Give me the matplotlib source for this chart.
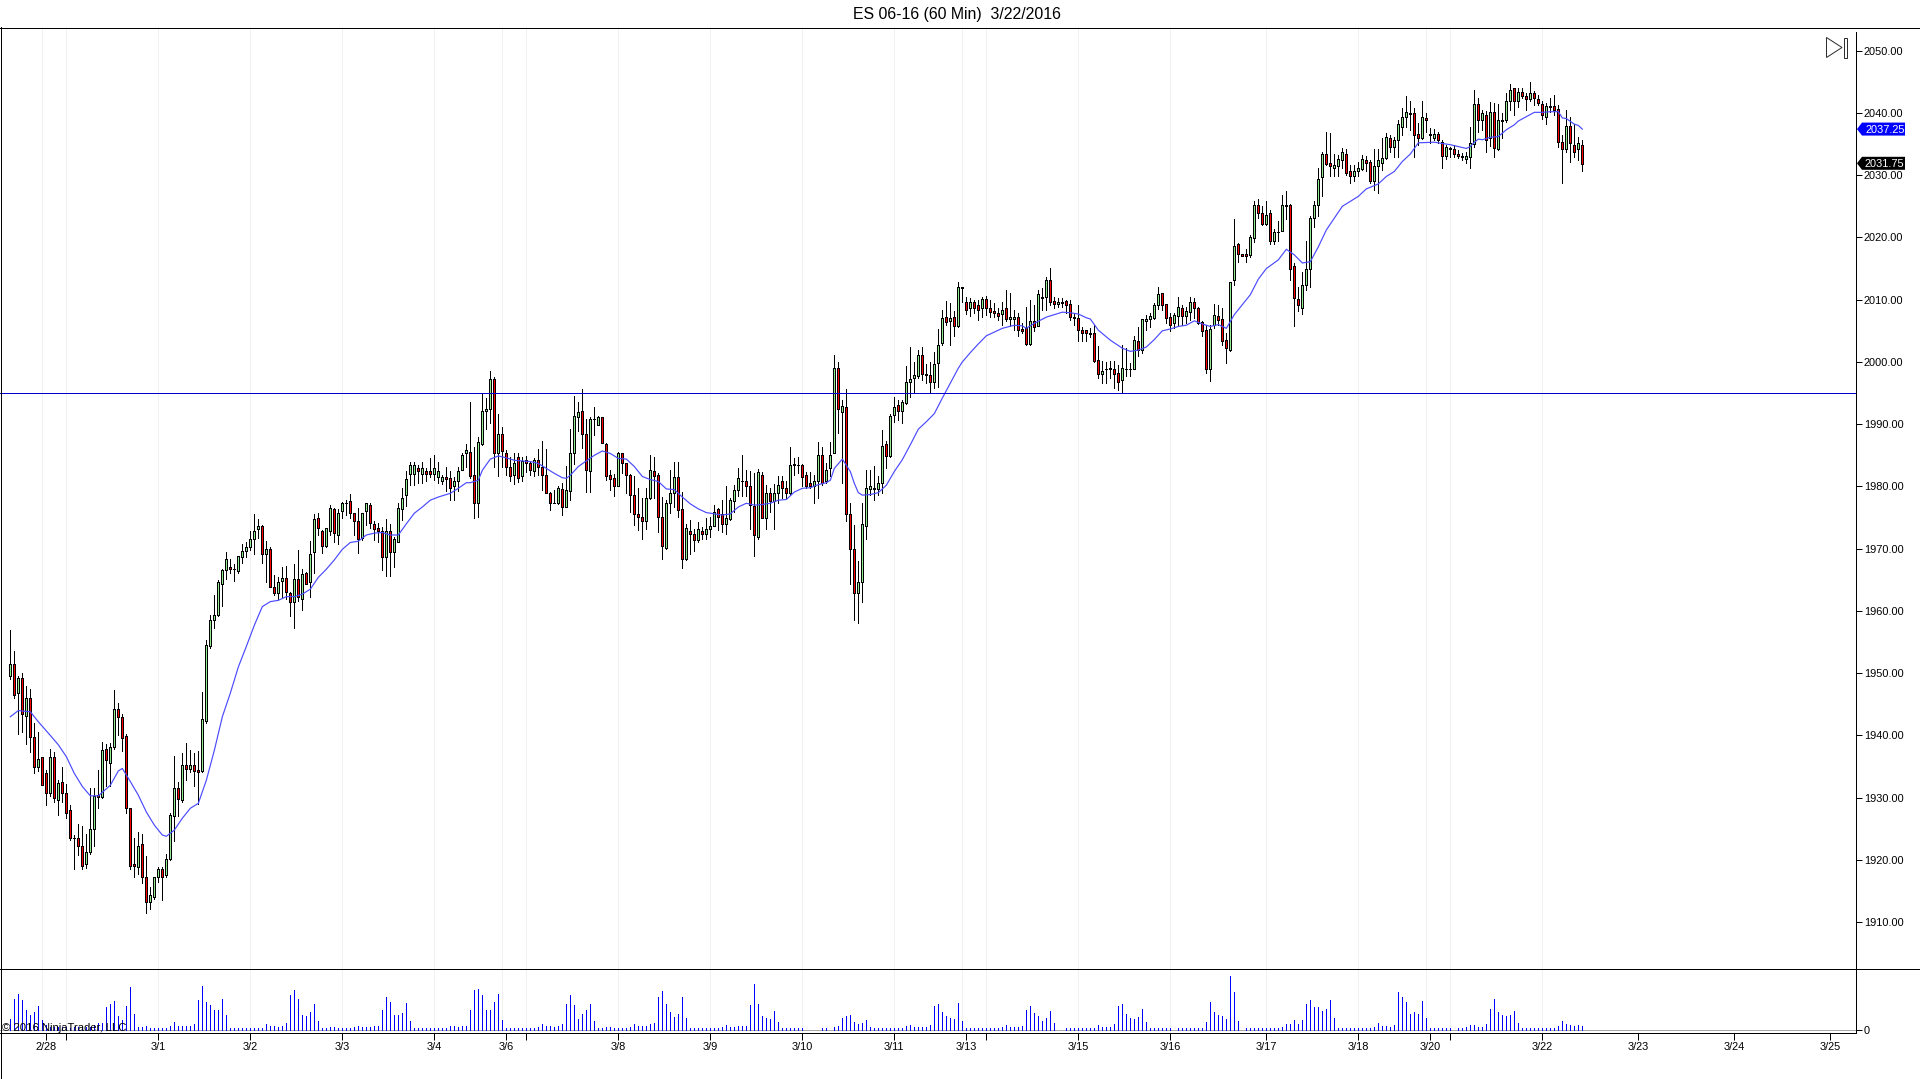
from matplotlib import pyplot as plt
from matplotlib.lines import Line2D
from matplotlib.patches import Polygon, Rectangle
from matplotlib.transforms import IdentityTransform

plt.rcParams['font.family'] = ['Liberation Sans', 'DejaVu Sans']

WIDTH, HEIGHT = 1920, 1079

opens = [
    1949.5, 1951.5, 1946.75, 1949.2, 1943.2, 1946, 1939.8, 1934.9, 1936.5, 1933.9,
    1930.7, 1936.6, 1929.7, 1932.6, 1930.7, 1928, 1923.6, 1923.5, 1922.3, 1919.4,
    1921.2, 1925, 1930.4, 1930.1, 1937.9, 1935.6, 1938.2, 1944.2, 1942.9, 1939.9,
    1928.4, 1919.4, 1918.8, 1922.6, 1917.2, 1913.3, 1914.1, 1917.2, 1918.6, 1917.6,
    1920.1, 1927.1, 1931.6, 1929.7, 1935.3, 1934.6, 1935.3, 1934.4, 1934.3, 1942.3,
    1954.4, 1958.6, 1959.4, 1964.4, 1966.6, 1967.1, 1966.7, 1966.4, 1968.7, 1969.7,
    1970.2, 1971.5, 1973.2, 1973.7, 1969.2, 1970, 1963.9, 1962.9, 1964.8, 1965.3,
    1962.9, 1961.5, 1965.2, 1962, 1966.1, 1964.7, 1969.4, 1975, 1972.8, 1970.5,
    1972.9, 1976.3, 1972.2, 1976, 1977.4, 1977.7, 1975.7, 1974.5, 1971.7, 1976,
    1977, 1973.9, 1973.3, 1972.9, 1968.7, 1972.9, 1969.4, 1971.1, 1976.3, 1978.6,
    1982, 1982, 1983, 1982, 1982.5, 1982.5, 1982, 1981.5, 1980.9, 1981.45,
    1981.3, 1980, 1980.8, 1982.7, 1985.3, 1985.5, 1981.8, 1977.4, 1986.8, 1992.2,
    1992.5, 1997.2, 1985.3, 1988.5, 1985.4, 1983.2, 1981.8, 1984.8, 1981.7, 1984.2,
    1983.7, 1982.5, 1984.2, 1983.1, 1981.9, 1979, 1977.4, 1977.3, 1979.6, 1976.7,
    1979.3, 1985.3, 1991.1, 1992.2, 1988.5, 1982.5, 1990.8, 1989.9, 1991.1, 1986.8,
    1981.8, 1981.3, 1980, 1985.4, 1983.7, 1981.9, 1978.6, 1975.5, 1975.1, 1974.5,
    1978.2, 1982.5, 1981.9, 1975.1, 1970.1, 1977.4, 1979, 1981.5, 1976.3, 1968.4,
    1972.8, 1972.4, 1971.4, 1972.9, 1972.4, 1973.2, 1973.7, 1976.3, 1975.5, 1973.9,
    1974.7, 1977.7, 1979.4, 1980.9, 1980.9, 1980, 1976.9, 1971.9, 1981.9, 1975,
    1979, 1977.6, 1979, 1980.9, 1979.7, 1979, 1983.6, 1983.5, 1983.5, 1981.8,
    1980.5, 1980.1, 1980.9, 1985, 1980.8, 1983, 1985.4, 1999, 1992, 1992.7,
    1975.5, 1970, 1962.9, 1964.7, 1973.7, 1979.6, 1979.7, 1979.6, 1980.5, 1986.8,
    1984.9, 1991.5, 1993.1, 1992.2, 1993.4, 1996.7, 1997.5, 1997.8, 2001.1, 1998,
    1997.9, 1996.7, 1999.8, 2003, 2007.3, 2006.5, 2007.3, 2005.8, 2012, 2009.6,
    2008.6, 2009.6, 2009.1, 2008.6, 2010.1, 2008.6, 2008.2, 2007.8, 2007.7, 2008.6,
    2006.9, 2006.9, 2007.3, 2005.3, 2005.4, 2002.9, 2006.5, 2005.8, 2010.5, 2010.5,
    2013.1, 2009.8, 2009.3, 2009.65, 2009.8, 2009.3, 2007.3, 2007, 2005.2, 2005.1,
    2004.6, 2004.6, 2000.3, 1998, 1998.9, 1999, 1998.8, 1998.3, 1997.1, 1998.9,
    1998.9, 1998.9, 2003.3, 2002, 2006.5, 2006.9, 2007, 2009.1, 2011, 2009.3,
    2007.3, 2006.3, 2007.4, 2008.6, 2007.4, 2008.1, 2009.6, 2008.6, 2006.4, 2005.1,
    1998.9, 2006, 2007.4, 2006.9, 2003.5, 2002, 2013.1, 2018.9, 2017.3, 2017.3,
    2017.2, 2019.9, 2025.2, 2023.9, 2022.2, 2023.9, 2019.5, 2020.8, 2021.1, 2025.1,
    2025.2, 2015.4, 2010.1, 2008.7, 2012.3, 2014.9, 2023.1, 2025.2, 2029.7, 2033.4,
    2031.9, 2031.1, 2031.4, 2032.5, 2033.4, 2030.7, 2029.8, 2030.7, 2031, 2032.5,
    2032.2, 2029.1, 2031.5, 2032, 2032.8, 2035.9, 2034.6, 2035.7, 2037.8, 2039.3,
    2040, 2040, 2036.6, 2035.9, 2039.2, 2036.6, 2036, 2036.6, 2035.3, 2033.1,
    2034.3, 2034.2, 2033.4, 2033.1, 2032.6, 2033, 2035, 2041.4, 2038.8, 2039.7,
    2036, 2040.1, 2034.2, 2038.9, 2038.9, 2041.9, 2044, 2041.9, 2043.3, 2042.7,
    2042.2, 2043.2, 2042.2, 2041.4, 2039.3, 2041.1, 2041.1, 2040.6, 2035.3, 2034.2,
    2037.9, 2034.9, 2034.2, 2034.8,
]
highs = [
    1957, 1953.5, 1949.5, 1950, 1948, 1947.4, 1942, 1940.5, 1936.6, 1934.4,
    1937.9, 1937.4, 1932.8, 1934.9, 1932.2, 1928.8, 1924, 1925.7, 1925.5, 1924.1,
    1931.6, 1931.6, 1934.4, 1938.9, 1938.7, 1938.8, 1947.3, 1945.2, 1943.4, 1940.2,
    1928.4, 1923.5, 1924.5, 1924.1, 1920.6, 1915.7, 1917.3, 1918.8, 1918.8, 1920.9,
    1927.6, 1936.7, 1932.5, 1937.2, 1938.8, 1937.7, 1937.2, 1937.5, 1947, 1955.3,
    1959.3, 1962.5, 1964.9, 1966.7, 1969.4, 1968.3, 1967.5, 1968.9, 1970.7, 1971.1,
    1972.9, 1975.6, 1974.7, 1973.8, 1971.2, 1970.2, 1965.8, 1965.4, 1967, 1967.2,
    1963.1, 1967.5, 1969.8, 1966.8, 1966.3, 1971.2, 1975.6, 1975.7, 1973, 1973.4,
    1977, 1976.5, 1976.3, 1977.5, 1977.8, 1978.8, 1975.8, 1976.5, 1975.8, 1977.4,
    1977.4, 1974.5, 1974.2, 1973.5, 1974.7, 1974, 1971.9, 1977.3, 1979.7, 1982.5,
    1984, 1984, 1983.5, 1984, 1983, 1984.5, 1985, 1984, 1981.8, 1983.1,
    1982.5, 1981.5, 1983.2, 1985.4, 1986.8, 1993.5, 1986.3, 1987.9, 1995, 1994.2,
    1998.5, 1997.6, 1991.6, 1989.6, 1985.8, 1984.7, 1985.4, 1985.4, 1984.7, 1984.9,
    1984, 1984.5, 1986, 1987.3, 1986, 1979.1, 1979.5, 1980, 1980.5, 1983.3,
    1989.3, 1994.5, 1993.6, 1995.6, 1990.8, 1991.1, 1992.7, 1991.3, 1991.2, 1986.9,
    1982.7, 1982, 1985.5, 1985.4, 1983.8, 1982, 1981.6, 1979.7, 1978.2, 1979.7,
    1985, 1984.8, 1982.1, 1978.3, 1977.8, 1982.7, 1984, 1984, 1979.1, 1974,
    1974.6, 1973.2, 1974.3, 1973.5, 1974.9, 1975.1, 1977, 1976.5, 1977.9, 1980.1,
    1978.1, 1980.2, 1982.9, 1985, 1982.6, 1982.5, 1982.1, 1982.8, 1982.4, 1980.2,
    1979.7, 1980.4, 1981.7, 1981.7, 1980.9, 1986.3, 1984.5, 1984.8, 1983.6, 1982.3,
    1982.3, 1981.8, 1987.2, 1986.4, 1983.7, 1987.2, 2001.1, 2000, 1993.9, 1995.6,
    1977.4, 1973.8, 1968, 1977.3, 1982.6, 1982.6, 1983.3, 1981.6, 1989, 1987.3,
    1991.7, 1994.4, 1993.9, 1993.9, 1999.4, 2002.4, 2000, 2002, 2002.4, 1999.7,
    2000, 2001.6, 2005.3, 2008.4, 2009.8, 2009.5, 2008.2, 2012.8, 2012.1, 2010.5,
    2010.2, 2010, 2010, 2010.5, 2010.6, 2009.9, 2009.4, 2008.6, 2009.7, 2011.6,
    2011, 2008.4, 2007.8, 2006.2, 2008.9, 2009.9, 2009.2, 2011.6, 2011.8, 2013.7,
    2015.1, 2010.5, 2010.2, 2010.3, 2010, 2009.9, 2007.7, 2009.2, 2005.6, 2005.2,
    2005.4, 2005.9, 2002.6, 2000.2, 2000, 2000.2, 2000.2, 1999.5, 2002.8, 2002.2,
    1999.8, 2004.2, 2005.6, 2006.9, 2007.5, 2007.9, 2009.4, 2012, 2011, 2009.3,
    2007.8, 2007.9, 2010.4, 2009.2, 2008.8, 2010.4, 2010.2, 2008.9, 2006.6, 2005.9,
    2005.9, 2009.3, 2009.2, 2008.6, 2004.6, 2012.8, 2022.9, 2019.1, 2017.3, 2018.2,
    2020.4, 2025.8, 2026.1, 2025, 2025.9, 2024.4, 2021.3, 2022.7, 2026.8, 2027.5,
    2025.3, 2015.9, 2012.1, 2014.4, 2019.5, 2023.4, 2025.9, 2031.1, 2033.7, 2036.9,
    2036.7, 2033.4, 2033.2, 2034.4, 2034.2, 2031.7, 2031.7, 2032.2, 2033.2, 2033.1,
    2032.5, 2034.2, 2034.2, 2036, 2036.8, 2036.5, 2036.2, 2038.9, 2040.8, 2042.7,
    2041.9, 2040.8, 2038.4, 2041.9, 2040, 2037.6, 2037.4, 2037, 2035.7, 2034.9,
    2034.6, 2034.9, 2034.1, 2033.5, 2033.8, 2037.8, 2043.7, 2042.4, 2040.5, 2040.3,
    2041.7, 2041.6, 2041.5, 2040, 2043.2, 2044.7, 2044, 2044, 2044, 2043.2,
    2045, 2043.5, 2042.9, 2041.9, 2041.6, 2042.4, 2042.9, 2041.3, 2036.5, 2040.4,
    2039.4, 2038.2, 2036.1, 2035.7,
]
lows = [
    1949, 1946, 1940.2, 1940.5, 1938.7, 1937.4, 1933.9, 1934.3, 1932, 1928.9,
    1930.3, 1929.3, 1927.2, 1929.3, 1926.7, 1923.2, 1918.6, 1920.8, 1918.6, 1918.7,
    1921, 1922.2, 1928.4, 1930, 1931.8, 1931.9, 1937.9, 1940, 1937.5, 1927.6,
    1918.6, 1917.3, 1917.7, 1916.3, 1911.5, 1912.2, 1913.8, 1916.5, 1913.5, 1917.3,
    1920, 1923.1, 1927, 1929.3, 1932.8, 1934.2, 1931.9, 1929, 1934.2, 1942,
    1954.1, 1957.2, 1959.2, 1960.8, 1965.1, 1966.1, 1964.8, 1966.1, 1967.7, 1968.7,
    1969.8, 1969.1, 1971.7, 1967.7, 1964.7, 1963.8, 1962.5, 1962, 1962.2, 1962,
    1959.2, 1957.2, 1961.6, 1960.2, 1964.3, 1962.2, 1966.1, 1972.2, 1969.3, 1970.2,
    1972.2, 1971.1, 1970.8, 1975, 1975.4, 1974.9, 1972.2, 1969.3, 1971.4, 1973.8,
    1973.3, 1971.4, 1971.1, 1966.6, 1965.6, 1965.6, 1967.1, 1971.1, 1974.6, 1976.8,
    1980.3, 1980.3, 1980.5, 1980.5, 1980.8, 1981.5, 1981, 1980.5, 1980.4, 1979.3,
    1977.9, 1977.8, 1979.2, 1982.6, 1983.2, 1981.3, 1975, 1975.1, 1986.6, 1989.2,
    1990.2, 1983.2, 1981.7, 1983.2, 1981.8, 1980.8, 1980.4, 1980.7, 1980.9, 1982.4,
    1981.8, 1981.7, 1981.8, 1979.4, 1978.9, 1976.2, 1977.3, 1977.2, 1975.4, 1976.7,
    1977.8, 1983.6, 1988.9, 1986.1, 1979.1, 1979.1, 1988.3, 1989.9, 1986.9, 1981,
    1979.4, 1978.4, 1980, 1982.1, 1978.9, 1975.9, 1973.8, 1973, 1971.5, 1973.2,
    1978, 1978.1, 1972.7, 1968.3, 1970, 1975.7, 1976.7, 1975.1, 1966.9, 1968.2,
    1969.2, 1969.7, 1971.1, 1971.5, 1971.6, 1971.9, 1973.7, 1973, 1972.7, 1972.3,
    1974.6, 1975.9, 1978.5, 1978.5, 1978.5, 1973.2, 1968.9, 1971.5, 1974.9, 1973.2,
    1975.9, 1973.1, 1977.4, 1978.2, 1978.2, 1978.6, 1981.8, 1982.1, 1980.1, 1979.7,
    1979.7, 1977.3, 1978.2, 1980.3, 1980.5, 1981.7, 1985.3, 1988.6, 1980.5, 1974.5,
    1964.3, 1958.6, 1958, 1961.5, 1971.6, 1978.6, 1977.9, 1978.6, 1979, 1983,
    1984.8, 1990.4, 1990.7, 1990.2, 1993.2, 1994.4, 1995, 1997.5, 1997.1, 1996.6,
    1995, 1995.8, 1996, 2002.7, 2006, 2002.8, 2004.1, 2005.6, 2009.7, 2007.7,
    2007.4, 2007.8, 2006.7, 2007.3, 2007.5, 2007.3, 2007.3, 2006.8, 2006, 2006.5,
    2005.7, 2005.1, 2004.2, 2004.6, 2002.7, 2002.7, 2005, 2005.7, 2008.4, 2008.3,
    2009.2, 2008.6, 2008.9, 2008.9, 2007.8, 2006.8, 2006, 2003.4, 2003.4, 2003.4,
    2004, 2000, 1997.4, 1996.6, 1996.6, 1997.4, 1995.8, 1995.5, 1995, 1997.7,
    1997.7, 1998.9, 2001, 2001.4, 2005.1, 2005.6, 2006.9, 2008.5, 2008.4, 2006.2,
    2005, 2005.4, 2005.9, 2005.9, 2006.2, 2006.7, 2007, 2006.1, 2004.2, 1998.3,
    1996.9, 2005.4, 2005.9, 2002.7, 1999.8, 2001.8, 2012.4, 2016, 2017.1, 2016,
    2016.8, 2019.3, 2023.1, 2022, 2022, 2019, 2019, 2019.5, 2021.1, 2023,
    2013.2, 2005.8, 2008.2, 2007.7, 2011.5, 2012, 2021.6, 2023.4, 2026.7, 2031.7,
    2029.9, 2029.8, 2029.9, 2031.2, 2030, 2028.8, 2029.1, 2029.9, 2030.9, 2030.6,
    2028.8, 2027.6, 2027.1, 2030.9, 2032.6, 2033.8, 2033, 2033, 2036.5, 2037.8,
    2037.3, 2033, 2034.9, 2035.8, 2037, 2035.1, 2035.7, 2035.1, 2031.1, 2032.6,
    2033, 2033, 2032.7, 2032.5, 2031.9, 2031.1, 2034.6, 2037, 2037.3, 2033.7,
    2034.7, 2032.9, 2034.1, 2036, 2038.6, 2040.4, 2039.6, 2040.9, 2042.4, 2040.4,
    2041.9, 2041.3, 2041.3, 2039.1, 2038.3, 2040.2, 2039.6, 2034.6, 2028.8, 2033.7,
    2032.1, 2032.9, 2032.4, 2030.6,
]
closes = [
    1951.5, 1946.5, 1949.2, 1943.4, 1946, 1939.8, 1934.9, 1936.2, 1932.1, 1930.7,
    1936.5, 1929.9, 1932.4, 1930.8, 1927.6, 1923.6, 1923.5, 1922.3, 1919.1, 1921.2,
    1924.9, 1930.2, 1930.1, 1937.6, 1936, 1938.2, 1944.2, 1942.9, 1939.6, 1928.4,
    1919, 1919, 1922.3, 1917.2, 1913.3, 1914.3, 1917.3, 1918.6, 1917.2, 1920.1,
    1927.3, 1931.6, 1929.8, 1935.3, 1934.6, 1935.3, 1934.3, 1934.2, 1942.7, 1954.5,
    1958.6, 1959.4, 1964.7, 1966.6, 1968.4, 1966.7, 1966.7, 1968.9, 1969.7, 1970.2,
    1971.5, 1972.9, 1973.7, 1969.2, 1970, 1963.9, 1962.9, 1964.7, 1965.3, 1963.1,
    1961.5, 1965.2, 1962.2, 1966, 1964.3, 1969.2, 1974.7, 1973.3, 1970.5, 1973.3,
    1976.5, 1972.5, 1975.7, 1977.3, 1977.3, 1975.7, 1974.5, 1971.5, 1975.7, 1977.3,
    1974.2, 1973.2, 1972.9, 1968.7, 1972.9, 1969.4, 1971.5, 1976.5, 1978.2, 1981.2,
    1983.5, 1983.5, 1982.5, 1983, 1982, 1982, 1983, 1982.5, 1981.45, 1981.2,
    1979.7, 1980.9, 1982.5, 1985, 1985.8, 1981.7, 1977.4, 1987.1, 1992.2, 1992.5,
    1997.2, 1985.3, 1988.5, 1985.7, 1983.2, 1981.7, 1983.8, 1981.4, 1984.1, 1983.7,
    1982.6, 1984.2, 1983.1, 1981.8, 1979, 1977.3, 1977.3, 1979.7, 1976.7, 1979.5,
    1985.3, 1991.3, 1992, 1988.5, 1982.6, 1990.8, 1990.8, 1991.1, 1987, 1981.7,
    1981.2, 1980, 1985.3, 1983.7, 1981.8, 1978.6, 1975.5, 1975.1, 1974.5, 1978.2,
    1982.7, 1981.7, 1975.1, 1970.5, 1977.4, 1979, 1981.5, 1976.2, 1968.3, 1973.4,
    1972.4, 1971.4, 1973.2, 1972.4, 1973.2, 1973.7, 1975.9, 1975.1, 1973.9, 1975,
    1977.9, 1979.5, 1981.3, 1980.8, 1980, 1977, 1972.2, 1982.3, 1975, 1979,
    1977.7, 1979, 1980.2, 1979.7, 1979, 1983.5, 1983.4, 1983.4, 1981.5, 1980.1,
    1980, 1980.9, 1985, 1980.5, 1982.7, 1985, 1999, 1992.5, 1993, 1975.5,
    1970, 1962.9, 1964.7, 1973.9, 1979.7, 1980, 1979.6, 1980.5, 1986.5, 1984.9,
    1991.3, 1992.7, 1992.2, 1993.6, 1996.8, 1997.3, 1997.9, 2001.1, 1998, 1997.9,
    1996.7, 1999.6, 2002.8, 2007, 2006.4, 2007, 2005.8, 2012, 2011.8, 2008.4,
    2009.6, 2008.7, 2008.4, 2010.1, 2008.7, 2008.1, 2007.8, 2007.4, 2008.3, 2006.9,
    2007.3, 2007.3, 2005.2, 2004.9, 2002.9, 2006.5, 2005.6, 2010.9, 2010.3, 2013.1,
    2009.6, 2009.3, 2009.6, 2009.55, 2009.2, 2007.3, 2007.1, 2005.2, 2004.7, 2004.6,
    2004.5, 2000.2, 1998, 1998.5, 1998.8, 1998.9, 1998, 1996.7, 1999, 1998.8,
    1998.9, 2003.5, 2002, 2006.9, 2006.9, 2007.4, 2009.2, 2010.9, 2009.1, 2007,
    2006, 2007.5, 2008.8, 2007.4, 2008.2, 2009.7, 2008.6, 2006.3, 2005, 1998.9,
    2005.3, 2007.5, 2006.7, 2003.4, 2002.2, 2012.8, 2018.6, 2017.3, 2017.1, 2017.1,
    2020, 2025.2, 2024, 2022.2, 2023.6, 2019.5, 2020.9, 2020.8, 2025.2, 2025.2,
    2015, 2010.3, 2009.1, 2012.3, 2014.9, 2023.1, 2025.2, 2029.4, 2033.4, 2031.8,
    2031.4, 2031.6, 2032.6, 2033.7, 2030.3, 2029.8, 2030.6, 2031.1, 2032.6, 2032,
    2029.1, 2031.5, 2032.5, 2032.8, 2036.1, 2034.6, 2035.6, 2038.2, 2039.3, 2040.1,
    2039.9, 2036.4, 2035.9, 2039.3, 2038.8, 2036.4, 2036.6, 2035.6, 2033.1, 2034.6,
    2034.2, 2033.4, 2033.1, 2032.9, 2033.1, 2035.2, 2041.4, 2038.8, 2040, 2035.6,
    2040.1, 2034.4, 2038.9, 2038.7, 2041.9, 2043.7, 2041.9, 2043.3, 2042.7, 2042.2,
    2043.2, 2042.4, 2041.6, 2039.6, 2041.1, 2040.9, 2040.4, 2035.3, 2034.2, 2037.9,
    2035.2, 2033.8, 2035.2, 2031.75,
]
volumes = [
    11, 31, 36, 30, 20, 15, 18, 24, 10, 5,
    3, 3, 3, 3, 3, 2, 3, 3, 3, 3,
    3, 5, 7, 7, 23, 26, 29, 14, 10, 24,
    43, 16, 3, 3, 4, 2, 2, 2, 2, 2,
    4, 8, 4, 4, 4, 4, 6, 30, 44, 28,
    25, 20, 20, 31, 15, 2, 2, 2, 2, 2,
    2, 2, 2, 2, 6, 4, 4, 3, 4, 7,
    35, 40, 31, 15, 14, 18, 26, 9, 2, 2,
    3, 3, 2, 2, 2, 2, 3, 4, 3, 3,
    3, 4, 4, 20, 33, 28, 15, 15, 17, 27,
    9, 2, 2, 2, 2, 2, 2, 2, 2, 2,
    4, 4, 3, 4, 4, 20, 40, 41, 35, 20,
    20, 28, 36, 10, 2, 2, 2, 2, 2, 2,
    2, 2, 3, 6, 4, 4, 3, 4, 6, 26,
    35, 25, 11, 16, 20, 26, 9, 2, 2, 3,
    3, 2, 2, 2, 2, 3, 6, 4, 4, 4,
    6, 7, 33, 39, 26, 18, 13, 16, 33, 12,
    2, 2, 2, 2, 2, 2, 2, 2, 3, 5,
    3, 3, 4, 4, 4, 25, 46, 26, 14, 12,
    11, 19, 8, 2, 2, 2, 2, 2, 2, 0,
    0, 0, 0, 2, 2, 0, 3, 4, 12, 14,
    15, 8, 6, 7, 10, 3, 2, 2, 2, 2,
    2, 2, 2, 2, 4, 5, 3, 3, 3, 3,
    5, 24, 26, 18, 14, 12, 11, 27, 9, 2,
    2, 2, 2, 2, 2, 2, 2, 2, 3, 5,
    3, 3, 3, 4, 20, 24, 17, 14, 9, 12,
    19, 7, 0, 0, 2, 2, 2, 2, 2, 2,
    2, 2, 5, 3, 3, 3, 6, 24, 26, 16,
    12, 11, 13, 21, 8, 2, 2, 2, 2, 2,
    2, 0, 2, 2, 2, 2, 2, 2, 2, 8,
    28, 18, 15, 14, 11, 54, 38, 9, 0, 2,
    2, 2, 2, 2, 2, 2, 2, 2, 3, 6,
    6, 10, 6, 10, 26, 30, 23, 23, 19, 21,
    30, 12, 2, 2, 2, 2, 2, 2, 2, 2,
    2, 3, 7, 4, 4, 3, 5, 38, 33, 28,
    16, 18, 16, 29, 12, 2, 2, 2, 2, 2,
    2, 0, 2, 2, 3, 5, 5, 3, 3, 6,
    21, 31, 18, 15, 14, 15, 19, 7, 2, 2,
    2, 2, 2, 2, 2, 2, 2, 4, 9, 6,
    5, 4, 5, 4,
]

# moving average, read at every couple of bars
ma_bars = [
    0, 2, 5, 7, 10, 12, 14, 16, 18, 20, 22, 25, 27, 28, 30, 32, 34, 36, 38, 39,
    41, 43, 45, 47, 49, 51, 53, 55, 57, 59, 61, 63, 65, 67, 69, 71, 73, 75, 77, 79,
    81, 83, 85, 87, 89, 91, 93, 95, 97, 99, 101, 103, 105, 107, 110, 112, 114, 115, 117, 118,
    120, 122, 124, 126, 128, 130, 132, 134, 136, 138, 139, 140, 142, 144, 146, 148, 150, 152, 154, 156,
    158, 160, 162, 164, 166, 168, 170, 172, 174, 176, 178, 180, 182, 184, 186, 188, 190, 192, 194, 196,
    198, 200, 202, 204, 205, 206, 208, 209, 210, 211, 212, 213, 215, 217, 219, 221, 223, 225, 227, 229,
    231, 233, 235, 237, 238, 240, 242, 244, 248, 251, 253, 254, 256, 259, 263, 265, 267, 269, 270, 272,
    275, 278, 280, 282, 284, 286, 288, 290, 292, 294, 296, 298, 300, 302, 304, 306, 308, 310, 312, 314,
    317, 319, 321, 323, 325, 327, 329, 331, 333, 335, 337, 339, 342, 344, 346, 348, 350, 352, 356, 360,
    364, 365, 366, 367, 368, 370, 372, 374, 376, 377, 379, 381, 383, 385, 387, 388, 389, 391, 392, 393,
]
ma_values = [
    1943, 1944, 1943.8, 1942.2, 1940, 1938.5, 1936.6, 1933.9, 1931.8, 1930.3, 1930.3, 1932, 1934.3, 1934.7, 1932.6, 1930.4, 1927.7, 1925.6, 1924, 1923.8,
    1924.8, 1926.7, 1928.3, 1929.1, 1932.8, 1937.6, 1943, 1946.8, 1951, 1954.3, 1957.7, 1960.7, 1961.5, 1961.7, 1962.3, 1962.3, 1962.7, 1963.5, 1965.4, 1966.7,
    1968.2, 1969.9, 1971, 1971.2, 1972.2, 1972.5, 1972.6, 1972.2, 1972.2, 1974, 1975.7, 1976.7, 1977.8, 1978.3, 1978.9, 1979.7, 1980.6, 1980.6, 1981, 1982.6,
    1984.4, 1984.9, 1984.6, 1984.2, 1984.1, 1984, 1983.7, 1982.9, 1982.1, 1981.4, 1981.3, 1981.8, 1983.2, 1984.1, 1985, 1985.7, 1985.3, 1984.5, 1984.4, 1983.2,
    1981.6, 1981.1, 1980.8, 1979.6, 1979.5, 1978.3, 1977.2, 1976.4, 1975.8, 1975.6, 1975.4, 1975.6, 1976.7, 1977.3, 1977, 1977.1, 1977.3, 1977.8, 1977.9, 1979.1,
    1979.7, 1979.8, 1980.3, 1980.6, 1981, 1982.9, 1984.4, 1983.4, 1982.4, 1980.5, 1979, 1978.6, 1978.7, 1979, 1980.2, 1982.4, 1984.3, 1986.7, 1989.2, 1990.4,
    1991.7, 1994.2, 1996.6, 1999, 2000, 2001.5, 2002.9, 2004.2, 2005.4, 2005.9, 2005.8, 2005.4, 2006.2, 2007.2, 2008, 2007.9, 2007.7, 2007.1, 2006.9, 2005.1,
    2003.5, 2002.2, 2001.7, 2001.9, 2002.4, 2003.6, 2005, 2005.3, 2005.7, 2005.9, 2006.6, 2006.1, 2005.7, 2006, 2005.4, 2007.6, 2009.2, 2010.8, 2013.3, 2015,
    2016.4, 2018.1, 2017.2, 2015.9, 2016.1, 2018.5, 2021.2, 2023.1, 2025, 2025.8, 2026.6, 2027.8, 2028.6, 2029.8, 2030.6, 2032.2, 2033.4, 2035.2, 2035.3, 2034.9,
    2034.3, 2034.6, 2035.3, 2035.8, 2035.7, 2036.1, 2036.2, 2037.3, 2038.1, 2038.7, 2039.4, 2040.1, 2040.1, 2040.2, 2040.2, 2039.2, 2039.1, 2038.2, 2038, 2037.4,
]

support_level = 1995
ma_last = 2037.25
price_ticks = [1910, 1920, 1930, 1940, 1950, 1960, 1970, 1980, 1990, 2000, 2010, 2020, 2030, 2040, 2050]
date_bars = [9, 37, 60, 83, 106, 124, 152, 175, 198, 221, 239, 267, 290, 314, 337, 355, 383, 407, 431, 455]
date_labels = ['2/28', '3/1', '3/2', '3/3', '3/4', '3/6', '3/8', '3/9', '3/10', '3/11', '3/13',
               '3/15', '3/16', '3/17', '3/18', '3/20', '3/22', '3/23', '3/24', '3/25']
week_bars = [14, 129, 244, 360]
grid_bars = [8, 14, 37, 60, 83, 106, 123, 129, 152, 175, 198, 221, 238, 244, 267, 290, 314, 337, 354, 360, 383]

LINE = 0.72  # one pixel at 100 dpi
FONT = 7.9
BAR_X0 = 10.33  # pixel of first bar
BAR_STEP = 4.0

def px_fig(x, y):
    return x / WIDTH, 1 - y / HEIGHT

def add_axes_px(left, top, right, bottom):
    return fig.add_axes([left / WIDTH, 1 - bottom / HEIGHT, (right - left) / WIDTH, (bottom - top) / HEIGHT])

def fig_line(x0, y0, x1, y1):
    fx0, fy0 = px_fig(x0, y0)
    fx1, fy1 = px_fig(x1, y1)
    fig.add_artist(Line2D([fx0, fx1], [fy0, fy1], color='black', lw=LINE, antialiased=False))

def price_tag(ax, price, text, color):
    # tag with a little arrow head, to the right of the price axis
    _, y = ax.transData.transform((0, price))
    y += 1
    left = ax.transAxes.transform((1, 0))[0]
    pts = [(left + 1, y), (left + 6, y + 6.5), (left + 49, y + 6.5), (left + 49, y - 6.5), (left + 6, y - 6.5)]
    fig.add_artist(Polygon(pts, closed=True, facecolor=color, edgecolor='none', transform=IdentityTransform()))
    fig.text((left + 48.5) / WIDTH, y / HEIGHT, text, color='white', fontsize=FONT, ha='right', va='center_baseline')

fig = plt.figure(figsize=(WIDTH / 100, HEIGHT / 100), dpi=100)
xlim = ((0 - BAR_X0) / BAR_STEP, (1856 - BAR_X0) / BAR_STEP)

ax = add_axes_px(0, 27, 1856, 968)
vol = add_axes_px(0, 968, 1856, 1033)

# candles
bars = list(range(len(closes)))
ax.vlines(bars, lows, highs, color='black', lw=LINE, antialiased=False, zorder=3)
for i in bars:
    up = closes[i] >= opens[i]
    bottom = min(opens[i], closes[i])
    height = abs(closes[i] - opens[i])
    ax.add_patch(Rectangle((i - 0.25, bottom), 0.5, height, facecolor='#90ee90' if up else '#ff0000',
                           edgecolor='black', lw=LINE, antialiased=False, zorder=4))

ax.plot(ma_bars, ma_values, color='#4a4aff', lw=0.85, zorder=5)
ax.axhline(support_level, color='#0000cc', lw=LINE, antialiased=False, zorder=6)

for g in grid_bars:
    ax.axvline(g, color='#f1f1f1', lw=LINE, antialiased=False, zorder=0)
    vol.axvline(g, color='#f1f1f1', lw=LINE, antialiased=False, zorder=0)

ax.set_xlim(*xlim)
ax.set_ylim(2050 - 917.3 / 6.225, 2050 + 23.7 / 6.225)
ax.set_xticks([])
ax.yaxis.tick_right()
ax.set_yticks(price_ticks)
ax.set_yticklabels([f'{t:.2f}' for t in price_ticks], fontsize=FONT)
ax.tick_params(axis='y', length=4.3, width=LINE, pad=1.3)
for name in ['left', 'top', 'bottom']:
    ax.spines[name].set_visible(False)
ax.spines['right'].set_linewidth(LINE)
ax.spines['right'].set_bounds(1902, 2053.05)

# volume panel
vol.axhline(0, color='#a8a8a8', lw=LINE, antialiased=False, zorder=1)
vol.vlines(bars, 0, volumes, color='#0000ff', lw=LINE, antialiased=False, zorder=2)
vol.set_xlim(*xlim)
vol.set_ylim(-3.3, 61.7)
vol.yaxis.tick_right()
vol.set_yticks([0])
vol.set_yticklabels(['0'], fontsize=FONT)
vol.tick_params(axis='y', length=4.3, width=LINE, pad=1.3)
vol.set_xticks(date_bars + week_bars)
vol.set_xticklabels(date_labels + [''] * len(week_bars), fontsize=FONT)
vol.tick_params(axis='x', length=5, width=LINE, pad=1.5)
for name in ['left', 'top']:
    vol.spines[name].set_visible(False)
vol.spines['right'].set_linewidth(LINE)
vol.spines['bottom'].set_linewidth(LINE)
vol.text(0.0012, 0.075, '\u00a9 2016 NinjaTrader, LLC', transform=vol.transAxes, fontsize=FONT + 0.2,
         color='black', va='center', zorder=7)

# outer frame, lines run out past the axis to the edge
fig_line(0, 27.5, WIDTH, 27.5)
fig_line(0, 968.5, WIDTH, 968.5)
fig_line(0, 1078.5, WIDTH, 1078.5)
fig_line(0.5, 27, 0.5, 1079)
fig_line(1919.5, 27, 1919.5, 1079)

fig.text(956.5 / WIDTH, 1 - 14 / HEIGHT, 'ES 06-16 (60 Min)  3/22/2016', fontsize=11.4, ha='center', va='center')

fig.canvas.draw()
price_tag(ax, closes[-1], '2031.75', 'black')
price_tag(ax, ma_last, '2037.25', '#0000ff')

# chart trader arrow at top right
tri = [px_fig(1826.5, 37.5), px_fig(1842, 47.5), px_fig(1826.5, 57.5)]
fig.add_artist(Polygon(tri, closed=True, facecolor='white', edgecolor='#303030', lw=LINE, transform=fig.transFigure))
rx, ry = px_fig(1843.5, 57.5)
fig.add_artist(Rectangle((rx, ry), 3 / WIDTH, 20 / HEIGHT, facecolor='white', edgecolor='#303030', lw=LINE,
                         transform=fig.transFigure))

fig.savefig('out.png', dpi=100)
